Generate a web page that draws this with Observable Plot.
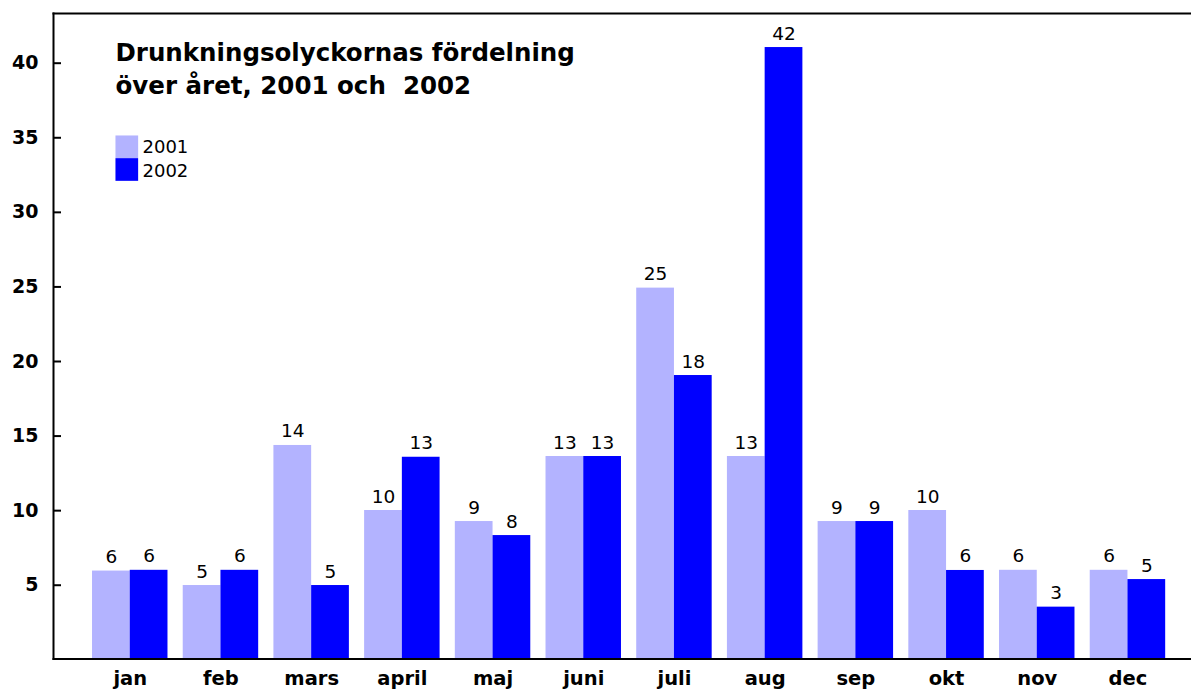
<!DOCTYPE html>
<html>
<head>
<meta charset="utf-8">
<script src="https://cdn.jsdelivr.net/npm/d3@7"></script>
<script src="https://cdn.jsdelivr.net/npm/@observablehq/plot@0.6"></script>
<style>
  html, body { margin: 0; padding: 0; background: #fff; }
</style>
</head>
<body>
<div id="chart"></div>
<script>
// ---- data ----
const months = ["jan", "feb", "mars", "april", "maj", "juni", "juli", "aug", "sep", "okt", "nov", "dec"];
const series = ["2001", "2002"];
const values2001 = [5.95, 4.98, 14.37, 10.01, 9.27, 13.63, 24.92, 13.63, 9.27, 10.01, 6.0, 6.0];
const values2002 = [6.0, 6.0, 4.98, 13.58, 8.33, 13.63, 19.06, 41.05, 9.27, 5.99, 3.53, 5.38];
const labels2001 = ["6", "5", "14", "10", "9", "13", "25", "13", "9", "10", "6", "6"];
const labels2002 = ["6", "6", "5", "13", "8", "13", "18", "42", "9", "6", "3", "5"];
const yTicks = [5, 10, 15, 20, 25, 30, 35, 40];
const titleLines = ["Drunkningsolyckornas fördelning", "över året, 2001 och  2002"];
const colors = ["#b3b3ff", "#0000ff"];

// ---- layout ----
const xRange = [84.4, 1172.8];
const padInner = 0.168, padOuter = 0.084;
const step = (xRange[1] - xRange[0]) / (months.length - padInner + 2 * padOuter);
const bw = step * (1 - padInner);
const half = bw / 2;

const rows2001 = months.map((m, i) => ({month: m, value: values2001[i], label: labels2001[i]}));
const rows2002 = months.map((m, i) => ({month: m, value: values2002[i], label: labels2002[i]}));

const chart = Plot.plot({
  width: 1191,
  height: 689,
  marginLeft: 53,
  marginRight: 0,
  marginTop: 13,
  marginBottom: 30.5,
  style: {fontFamily: "DejaVu Sans", background: "#fff", color: "#000", overflow: "visible"},
  x: {type: "band", domain: months, range: xRange, paddingInner: padInner, paddingOuter: padOuter, align: 0.5, round: false, axis: null, label: null},
  y: {domain: [0, 40], range: [659.3, 62.7], axis: null, label: null},
  marks: [
    Plot.barY(rows2001, {x: "month", y: "value", fill: colors[0], insetRight: half}),
    Plot.barY(rows2002, {x: "month", y: "value", fill: colors[1], insetLeft: half}),
    Plot.text(rows2001, {x: "month", y: "value", text: "label", dx: -half / 2, dy: -8, lineAnchor: "bottom", fontSize: 18.5, fill: "#000"}),
    Plot.text(rows2002, {x: "month", y: "value", text: "label", dx: half / 2, dy: -8, lineAnchor: "bottom", fontSize: 18.5, fill: "#000"}),
    Plot.frame({anchor: "left", stroke: "#000", strokeWidth: 2}),
    Plot.frame({anchor: "top", stroke: "#000", strokeWidth: 2}),
    Plot.frame({anchor: "bottom", stroke: "#000", strokeWidth: 2}),
    Plot.axisY({ticks: yTicks, tickSize: 8, dx: 8, text: null, label: null, stroke: "#000", strokeWidth: 2}),
    Plot.axisY({ticks: yTicks, tickSize: 0, tickPadding: 15, label: null, fontSize: 19, fontWeight: "bold", fill: "#000"}),
    Plot.axisX({tickSize: 0, tickPadding: 12.5, label: null, fontSize: 19.5, fontWeight: "bold", fill: "#000"}),
    // title
    Plot.text([titleLines[0]], {frameAnchor: "top-left", text: d => d, dx: 62, dy: 47, lineAnchor: "bottom", textAnchor: "start", fontSize: 24.5, fontWeight: "bold", fill: "#000"}),
    Plot.text([titleLines[1]], {frameAnchor: "top-left", text: d => d, dx: 62, dy: 80, lineAnchor: "bottom", textAnchor: "start", fontSize: 24.5, fontWeight: "bold", fill: "#000"}),
    // legend
    Plot.dot([series[0]], {frameAnchor: "top-left", dx: 73.3, dy: 133.3, symbol: "square", r: 12.8, fill: colors[0]}),
    Plot.dot([series[1]], {frameAnchor: "top-left", dx: 73.3, dy: 156, symbol: "square", r: 12.8, fill: colors[1]}),
    Plot.text([series[0]], {frameAnchor: "top-left", text: d => d, dx: 89, dy: 139, lineAnchor: "bottom", textAnchor: "start", fontSize: 18, fill: "#000"}),
    Plot.text([series[1]], {frameAnchor: "top-left", text: d => d, dx: 89, dy: 163, lineAnchor: "bottom", textAnchor: "start", fontSize: 18, fill: "#000"})
  ]
});
document.getElementById("chart").appendChild(chart);
</script>
</body>
</html>
